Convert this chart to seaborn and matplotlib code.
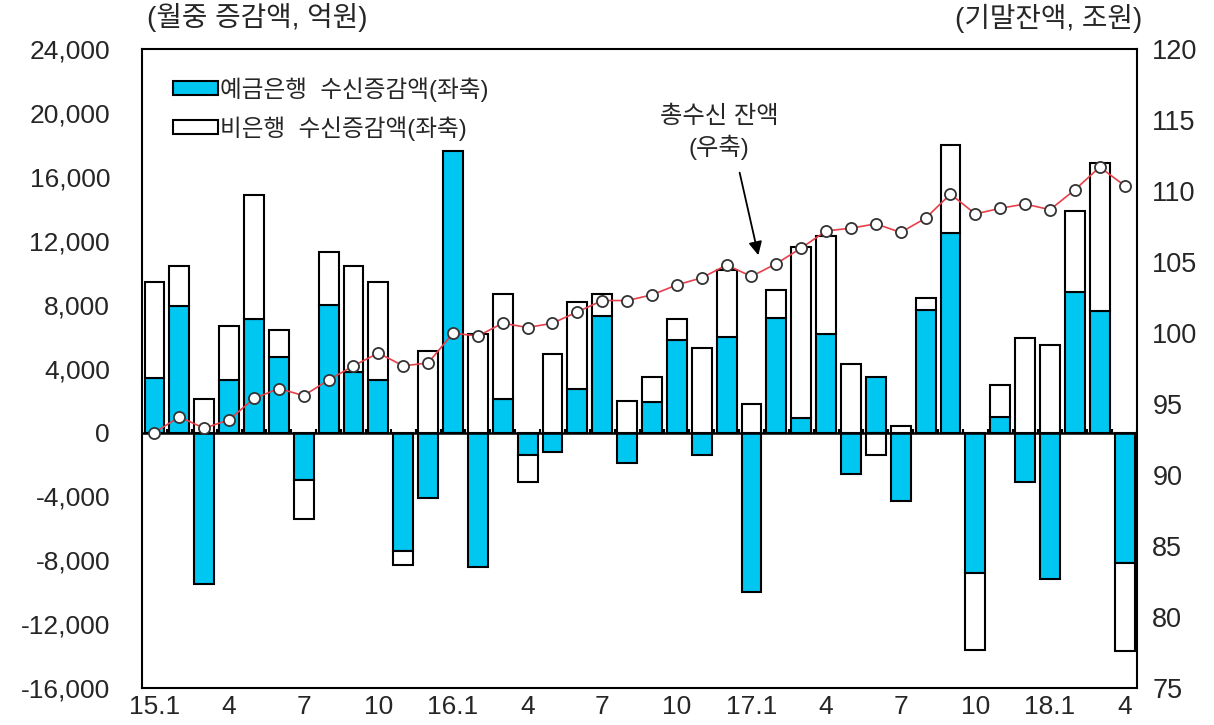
import numpy as np
import pandas as pd
import seaborn as sns
import matplotlib.pyplot as plt
from matplotlib.patches import Patch
from matplotlib.ticker import FuncFormatter

# 월별 수신 증감액 (억원) : 2015.1 ~ 2018.4
bank = [3400, 7900, -9500, 3300, 7100, 4700, -3000, 8000, 3800, 3300, -7400, -4100,
        17600, -8400, 2100, -1400, -1200, 2700, 7300, -1900, 1900, 5800, -1400, 6000,
        -10000, 7200, 900, 6200, -2600, 3500, -4300, 7700, 12500, -8800, 1000, -3100,
        -9200, 8800, 7600, -8200]
nonbank = [6000, 2500, 2100, 3400, 7800, 1700, -2400, 3300, 6600, 6100, -900, 5100,
           0, 6200, 6600, -1700, 4900, 5500, 1400, 2000, 1600, 1300, 5300, 4200,
           1800, 1700, 10700, 6100, 4300, -1400, 400, 700, 5500, -4800, 2000, 5900,
           5500, 5100, 9300, -5500]
# 총수신 잔액 (조원)
balance = [93.0, 94.1, 93.3, 93.9, 95.4, 96.1, 95.6, 96.7, 97.7, 98.6, 97.7, 97.9,
           100.0, 99.8, 100.7, 100.4, 100.7, 101.5, 102.3, 102.3, 102.7, 103.4, 103.9, 104.8,
           104.0, 104.9, 106.0, 107.2, 107.4, 107.7, 107.1, 108.1, 109.8, 108.4, 108.8, 109.1,
           108.7, 110.1, 111.7, 110.4]

tick_pos = [0, 3, 6, 9, 12, 15, 18, 21, 24, 27, 30, 33, 36, 39]
tick_labels = ["15.1", "4", "7", "10", "16.1", "4", "7", "10", "17.1", "4", "7", "10", "18.1", "4"]

df = pd.DataFrame({"idx": np.arange(len(bank)), "bank": bank, "nonbank": nonbank, "balance": balance})
# 같은 부호면 쌓고, 다르면 0에서 시작
df["bottom"] = np.where(np.sign(df["bank"]) == np.sign(df["nonbank"]), df["bank"], 0)

sns.set_style("white")
plt.rcParams["font.family"] = ["Liberation Sans", "Noto Sans CJK KR", "DejaVu Sans"]
plt.rcParams["axes.unicode_minus"] = False

blue = "#00c6f2"
fig = plt.figure(figsize=(12.14, 7.25), dpi=100)
ax = fig.add_axes([0.117, 0.051, 0.8196, 0.881])

sns.barplot(data=df, x="idx", y="bank", color=blue, edgecolor="black", linewidth=1.5,
            width=0.8, saturation=1, ax=ax)
ax.bar(df["idx"], df["nonbank"], bottom=df["bottom"], width=0.8, color="white",
       edgecolor="black", linewidth=1.5)

ax.axhline(0, color="black", lw=1.8)
ax.vlines(np.arange(-0.5, 40), 0, 250, color="black", lw=1.5)

ax.set_xlim(-0.5, 39.5)
ax.set_ylim(-16000, 24000)
ax.set_yticks(range(-16000, 24001, 4000))
ax.yaxis.set_major_formatter(FuncFormatter(lambda v, p: f"{int(v):,}"))
ax.set_xticks(tick_pos)
ax.set_xticklabels(tick_labels)
ax.tick_params(axis="y", length=0, pad=23, labelsize=19)
ax.tick_params(axis="x", length=0, pad=5, labelsize=19)
ax.set_xlabel("")
ax.set_ylabel("")
for s in ax.spines.values():
    s.set_color("black")
    s.set_linewidth(1.5)

ax2 = ax.twinx()
sns.lineplot(data=df, x="idx", y="balance", ax=ax2, color="#e8404a", lw=1.2,
             marker="o", markersize=8, markerfacecolor="white",
             markeredgecolor="#333333", markeredgewidth=1.3)
ax2.set_ylim(75, 120)
ax2.set_yticks(range(75, 121, 5))
ax2.tick_params(axis="y", length=0, pad=11, labelsize=19.5)
ax2.set_ylabel("")
ax2.set_xlim(-0.5, 39.5)
for s in ax2.spines.values():
    s.set_visible(False)

handles = [Patch(facecolor=blue, edgecolor="black", linewidth=1.5, label="예금은행  수신증감액(좌축)"),
           Patch(facecolor="white", edgecolor="black", linewidth=1.5, label="비은행  수신증감액(좌축)")]
ax2.legend(handles=handles, loc="upper left", bbox_to_anchor=(0.01, 0.99), frameon=False,
           fontsize=17, handlelength=1.9, handleheight=0.55, handletextpad=0.1, labelspacing=0.6)

ax2.text(22.7, 114.1, "총수신 잔액\n(우축)", ha="center", va="center", fontsize=17.5,
         linespacing=1.3)
ax2.annotate("", xy=(24.3, 105.3), xytext=(23.5, 111.5),
             arrowprops=dict(arrowstyle="-|>", color="black", lw=1.3, mutation_scale=20))

fig.text(147 / 1214, 1 - 18 / 725, "(월중 증감액, 억원)", ha="left", va="center", fontsize=20)
fig.text(1142 / 1214, 1 - 18 / 725, "(기말잔액, 조원)", ha="right", va="center", fontsize=20)

fig.savefig("out.png", dpi=100)
